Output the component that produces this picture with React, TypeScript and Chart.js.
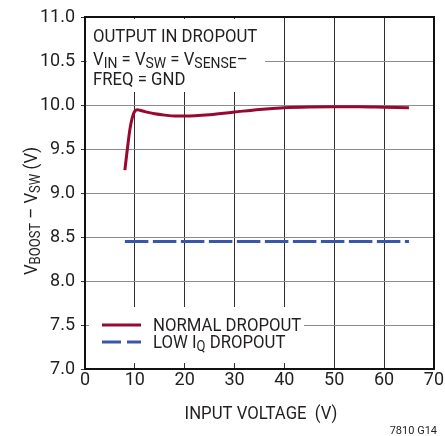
import React, { useEffect, useRef } from "react";
import { Chart, registerables } from "chart.js";

Chart.register(...registerables);

// ---- data ----
const normalVin = [8, 8.5, 9, 9.5, 10, 10.5, 11, 12, 14, 16, 18, 20, 25, 30, 35, 40, 45, 50, 55, 60, 65];
const normalVout = [9.26, 9.5, 9.72, 9.86, 9.93, 9.945, 9.94, 9.925, 9.9, 9.885, 9.875, 9.875, 9.89, 9.92, 9.95, 9.97, 9.978, 9.98, 9.98, 9.975, 9.97];
const lowIqVin = [8, 65];
const lowIqVout = [8.45, 8.45];
const xTickValues = [0, 10, 20, 30, 40, 50, 60, 70];
const yTickValues = [7.0, 7.5, 8.0, 8.5, 9.0, 9.5, 10.0, 10.5, 11.0];

const RED = "rgb(152,8,48)";
const BLUE = "rgb(58,86,170)";
const FONT = '"Roboto", "Liberation Sans", sans-serif';
const TXT = "#231f20";
const SQ = 0.93; // horizontal condensing of overlay text

type Seg = { t: string; sub?: boolean };

function drawSegs(ctx: CanvasRenderingContext2D, segs: Seg[], x: number, y: number, size = 18, subSize = 14, subOff = 3) {
  ctx.save();
  ctx.translate(x, y);
  ctx.scale(SQ, 1);
  let cx = 0;
  for (const s of segs) {
    ctx.font = `${s.sub ? subSize : size}px ${FONT}`;
    ctx.fillText(s.t, cx, s.sub ? subOff : 0);
    cx += ctx.measureText(s.t).width;
  }
  ctx.restore();
  return cx * SQ;
}
function segsWidth(ctx: CanvasRenderingContext2D, segs: Seg[], size = 18, subSize = 14) {
  let w = 0;
  for (const s of segs) {
    ctx.font = `${s.sub ? subSize : size}px ${FONT}`;
    w += ctx.measureText(s.t).width;
  }
  return w * SQ;
}

const overlayPlugin = {
  id: "overlay",
  beforeDatasetsDraw(chart: any) {
    const ctx = chart.ctx as CanvasRenderingContext2D;
    ctx.save();
    ctx.fillStyle = "#fff";
    ctx.fillRect(87, 19, 178, 73); // annotation box
    ctx.fillRect(89, 307, 215, 56); // legend box
    ctx.restore();
  },
  afterDraw(chart: any) {
    const ctx = chart.ctx as CanvasRenderingContext2D;
    ctx.save();
    ctx.fillStyle = TXT;
    ctx.textBaseline = "alphabetic";
    ctx.textAlign = "left";
    // annotation
    drawSegs(ctx, [{ t: "OUTPUT IN DROPOUT" }], 93, 42);
    drawSegs(ctx, [
      { t: "V" }, { t: "IN", sub: true }, { t: " = V" }, { t: "SW", sub: true },
      { t: " = V" }, { t: "SENSE", sub: true }, { t: "–" },
    ], 93, 65, 18, 15, 3);
    drawSegs(ctx, [{ t: "FREQ = GND" }], 93, 85);

    // legend
    ctx.lineWidth = 3;
    ctx.strokeStyle = RED;
    ctx.setLineDash([]);
    ctx.beginPath();
    ctx.moveTo(102, 325);
    ctx.lineTo(141, 325);
    ctx.stroke();
    ctx.strokeStyle = BLUE;
    ctx.setLineDash([19, 6]);
    ctx.beginPath();
    ctx.moveTo(102, 342);
    ctx.lineTo(141, 342);
    ctx.stroke();
    ctx.setLineDash([]);
    ctx.fillStyle = TXT;
    drawSegs(ctx, [{ t: "NORMAL DROPOUT" }], 153, 331);
    drawSegs(ctx, [{ t: "LOW I" }, { t: "Q", sub: true }, { t: " DROPOUT" }], 153, 348);

    // x title
    const xt: Seg[] = [{ t: "INPUT VOLTAGE  (V)" }];
    const xw = segsWidth(ctx, xt);
    drawSegs(ctx, xt, 261 - xw / 2, 419);
    // footnote
    ctx.font = `11px ${FONT}`;
    ctx.textAlign = "right";
    ctx.fillText("7810 G14", 437, 434);

    // y title
    const ySegs: Seg[] = [
      { t: "V" }, { t: "BOOST", sub: true }, { t: " – V" }, { t: "SW", sub: true }, { t: " (V)" },
    ];
    ctx.textAlign = "left";
    const w = segsWidth(ctx, ySegs);
    ctx.translate(37, 211);
    ctx.rotate(-Math.PI / 2);
    drawSegs(ctx, ySegs, -w / 2, 0);
    ctx.restore();
  },
};

export default function App() {
  const ref = useRef<HTMLCanvasElement | null>(null);
  useEffect(() => {
    document.body.style.margin = "0";
    const canvas = ref.current!;
    const chart = new Chart(canvas, {
      type: "line",
      data: {
        datasets: [
          {
            label: "NORMAL DROPOUT",
            data: normalVin.map((x, i) => ({ x, y: normalVout[i] })),
            borderColor: RED,
            borderWidth: 3,
            pointRadius: 0,
            cubicInterpolationMode: "monotone",
            fill: false,
          },
          {
            label: "LOW IQ DROPOUT",
            data: lowIqVin.map((x, i) => ({ x, y: lowIqVout[i] })),
            borderColor: BLUE,
            borderWidth: 3,
            borderDash: [23.5, 4.5],
            pointRadius: 0,
            fill: false,
          },
        ],
      },
      options: {
        responsive: false,
        animation: false,
        layout: { padding: { top: 17, right: 9, left: 0, bottom: 0 } },
        plugins: { legend: { display: false }, tooltip: { enabled: false } },
        scales: {
          x: {
            type: "linear",
            min: 0,
            max: 70,
            afterBuildTicks: (s: any) => { s.ticks = xTickValues.map((v) => ({ value: v })); },
            afterFit: (s: any) => { s.height = 67; },
            ticks: {
              color: TXT,
              font: { family: FONT, size: 18 },
              padding: 1,
              maxRotation: 0,
              autoSkip: false,
              callback: (v: any) => String(v),
            },
            grid: { color: "#2e2e2e", lineWidth: 1, drawTicks: false },
            border: { color: "#111", width: 2 },
          },
          y: {
            type: "linear",
            min: 7,
            max: 11,
            afterBuildTicks: (s: any) => { s.ticks = yTickValues.map((v) => ({ value: v })); },
            afterFit: (s: any) => { s.width = 85; },
            ticks: {
              color: TXT,
              font: { family: FONT, size: 18 },
              padding: 6,
              autoSkip: false,
              callback: (v: any) => Number(v).toFixed(1),
            },
            grid: { color: "#8c8c8c", lineWidth: 1, tickLength: 4, tickColor: "#333" },
            border: { color: "#111", width: 2 },
          },
          x2: {
            type: "linear", position: "top", min: 0, max: 70, display: true,
            ticks: { display: false }, grid: { display: false, drawTicks: false },
            border: { color: "#111", width: 2 },
            afterFit: (s: any) => { s.height = 0; },
          },
          y2: {
            type: "linear", position: "right", min: 7, max: 11, display: true,
            ticks: { display: false }, grid: { display: false, drawTicks: false },
            border: { color: "#111", width: 2 },
            afterFit: (s: any) => { s.width = 0; },
          },
        },
      },
      plugins: [overlayPlugin],
    } as any);
    return () => chart.destroy();
  }, []);
  return <canvas ref={ref} width={445} height={436} style={{ display: "block" }} />;
}
